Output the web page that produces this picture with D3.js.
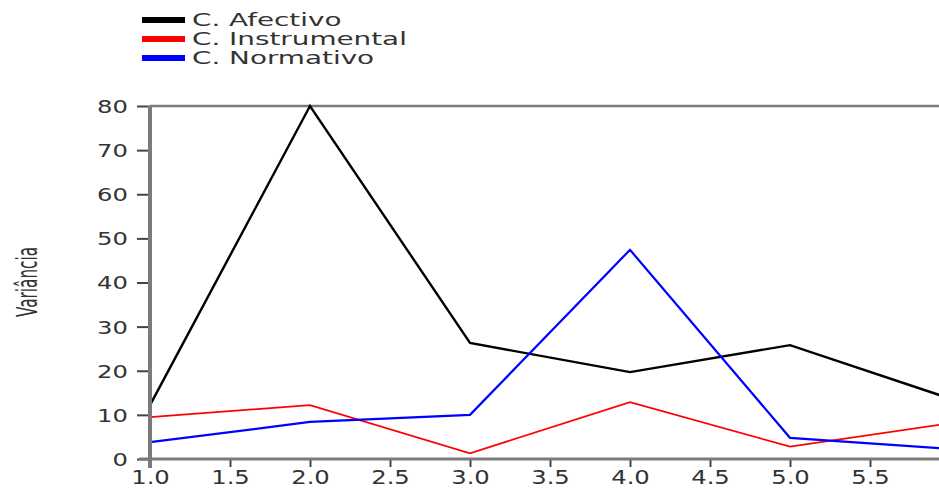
<!DOCTYPE html>
<html><head><meta charset="utf-8">
<script src="https://cdn.jsdelivr.net/npm/d3@7"></script>
<style>
html,body{margin:0;padding:0;background:#fff;}
svg{display:block;}
text{font-family:"DejaVu Sans",Verdana,sans-serif;fill:#333;}
</style></head><body>
<svg id="chart" width="939" height="489"></svg>
<script>
const xValues = [1, 2, 3, 4, 5, 6];
const seriesNames = ["C. Afectivo", "C. Instrumental", "C. Normativo"];
const afectivo = [12.2, 80, 26.3, 19.7, 25.8, 13.7];
const instrumental = [9.5, 12.2, 1.3, 12.9, 2.8, 8.1];
const normativo = [3.8, 8.4, 10.0, 47.4, 4.8, 2.3];
const seriesColors = ["#000000", "#ff0000", "#0000ff"];
const xTicks = [1.0, 1.5, 2.0, 2.5, 3.0, 3.5, 4.0, 4.5, 5.0, 5.5];
const yTicks = [0, 10, 20, 30, 40, 50, 60, 70, 80];
const yTitle = "Variância";

(function() {
const svg = d3.select("#chart");
const W = 939;
const mLeft = 150, mTop = 106, mBottom = 459;
const x = d3.scaleLinear().domain([1, 6]).range([mLeft, 950]);
const y = d3.scaleLinear().domain([0, 80]).range([mBottom, mTop]);

function stretch(sel, sx) {
  sel.each(function() {
    const t = d3.select(this);
    const xx = +t.attr("x") || 0;
    t.attr("x", xx / sx).attr("transform", (t.attr("transform") || "") + ` scale(${sx},1)`);
  });
}

// top border
svg.append("line").attr("x1", mLeft).attr("x2", W).attr("y1", mTop).attr("y2", mTop)
  .attr("stroke", "#7a7a7a").attr("stroke-width", 2.5);

// clip for lines
svg.append("clipPath").attr("id", "clip").append("rect")
  .attr("x", mLeft).attr("y", mTop - 5).attr("width", W - mLeft).attr("height", mBottom - mTop + 10);

const series = [afectivo, instrumental, normativo];
const line = d3.line().x((d, i) => x(xValues[i])).y(d => y(d));
const lineWidths = [2.4, 1.8, 2.2];
series.forEach((s, k) => {
  svg.append("path").datum(s).attr("d", line).attr("fill", "none")
    .attr("stroke", seriesColors[k]).attr("stroke-width", lineWidths[k])
    .attr("stroke-linejoin", "miter").attr("clip-path", "url(#clip)");
});

// Y axis
const yAxis = svg.append("g").attr("transform", `translate(${mLeft},0)`)
  .call(d3.axisLeft(y).tickValues(yTicks).tickSize(13).tickPadding(9).tickFormat(d3.format("d")));
yAxis.select(".domain").remove();
yAxis.selectAll(".tick line").attr("stroke", "#444").attr("stroke-width", 2);
yAxis.selectAll(".tick text").attr("font-size", 18).attr("fill", "#333")
  .attr("font-family", "DejaVu Sans").attr("dy", "0.36em").attr("x", -22);
stretch(yAxis.selectAll(".tick text"), 1.35);

// X axis
const xAxis = svg.append("g").attr("transform", `translate(0,${mBottom})`)
  .call(d3.axisBottom(x).tickValues(xTicks).tickSize(8).tickPadding(8).tickFormat(d3.format(".1f")));
xAxis.select(".domain").remove();
xAxis.selectAll(".tick line").attr("stroke", "#444").attr("stroke-width", 2);
xAxis.selectAll(".tick text").attr("font-size", 19).attr("fill", "#333")
  .attr("font-family", "DejaVu Sans").attr("dy", "0.71em").attr("y", 12);
stretch(xAxis.selectAll(".tick text"), 1.28);

// axis lines
svg.append("line").attr("x1", mLeft - 11).attr("x2", W).attr("y1", mBottom).attr("y2", mBottom)
  .attr("stroke", "#7a7a7a").attr("stroke-width", 3);
svg.append("line").attr("x1", mLeft).attr("x2", mLeft).attr("y1", mTop).attr("y2", mBottom + 9)
  .attr("stroke", "#7a7a7a").attr("stroke-width", 4);

// Y title
svg.append("text").text(yTitle)
  .attr("transform", "translate(37,282) rotate(-90)")
  .attr("text-anchor", "middle").attr("font-size", 28).attr("fill", "#444")
  .attr("textLength", 70).attr("lengthAdjust", "spacingAndGlyphs");

// Legend
const legend = svg.append("g");
const rowsY = [20, 39, 58];
seriesNames.forEach((name, k) => {
  legend.append("line").attr("x1", 142).attr("x2", 185).attr("y1", rowsY[k]).attr("y2", rowsY[k])
    .attr("stroke", seriesColors[k]).attr("stroke-width", 6);
  legend.append("text").text(name).attr("x", 192).attr("y", rowsY[k]).attr("dy", "0.36em")
    .attr("font-size", 17).attr("fill", "#333");
});
const nat = legend.selectAll("text").nodes()[1].getComputedTextLength();
const sx = 215 / nat;
legend.selectAll("text").each(function() {
  d3.select(this).attr("x", 192 / sx).attr("transform", `scale(${sx},1)`);
});
})();
</script>
</body></html>
